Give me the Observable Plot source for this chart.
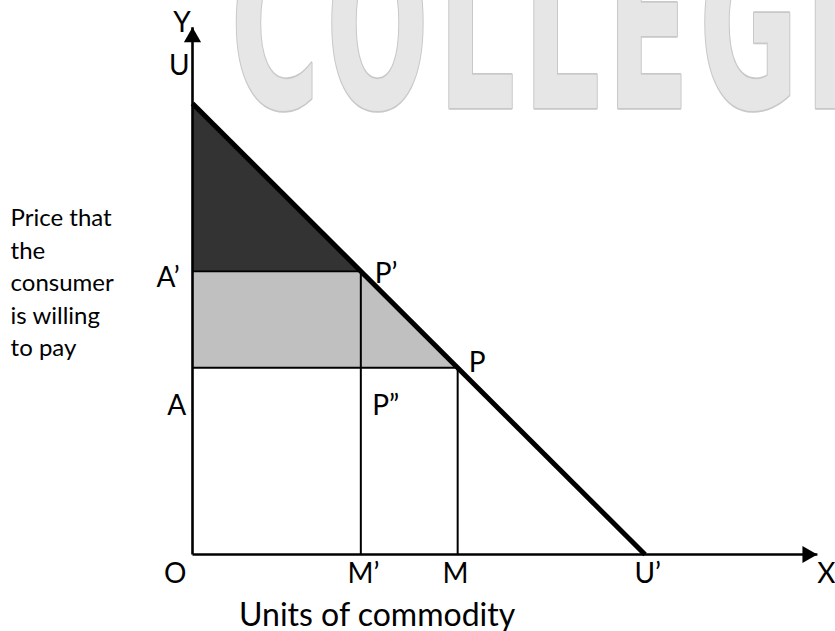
<!DOCTYPE html>
<html>
<head>
<meta charset="utf-8">
<script src="https://cdn.jsdelivr.net/npm/d3@7"></script>
<script src="https://cdn.jsdelivr.net/npm/@observablehq/plot@0.6"></script>
<style>
  body { margin: 0; background: #ffffff; }
  #chart { width: 835px; height: 631px; }
</style>
</head>
<body>
<div id="chart"></div>
<script>
// ---- data (in chart units) ----
const demandX = [0, 10];          // U at x=0, U' at x=10
const demandY = [10, 0];
const quantities = [3.72, 5.86];  // M', M
const prices = [6.28, 4.14];      // A', A (price on demand curve at M', M)
const axisEnds = [13.81, 11.69];  // x-axis tip, y-axis tip

const labelText = ["Y", "U", "A’", "P’", "P", "A", "P”", "O", "M’", "M", "U’", "X"];
const labelX    = [-0.23, -0.29, -0.54, 4.28, 6.29, -0.35, 4.27, -0.38, 3.78, 5.81, 10.06, 14.01];
const labelY    = [11.78, 10.82, 6.13, 6.21, 4.25, 3.30, 3.30, -0.43, -0.43, -0.43, -0.43, -0.43];

const yTitle = "Price that\nthe\nconsumer\nis willing\nto pay";
const xTitle = "Units of commodity";

// background watermark letters and their centres (chart units)
const watermarkLetters = ["C", "O", "L", "L", "E", "G", "E"];
const watermarkX       = [1.82, 4.09, 6.28, 8.16, 10.07, 12.29, 14.44];
const watermarkBaseline = 9.89;

// ---- derived tables ----
const [q1, q2] = quantities;
const [p1, p2] = prices;
const labels = labelText.map((t, i) => ({t, x: labelX[i], y: labelY[i]}));
const wm = watermarkLetters.map((t, i) => ({t, x: watermarkX[i], y: watermarkBaseline}));
const darkArea = [
  {x: demandX[0], y1: p1, y2: demandY[0]},
  {x: q1, y1: p1, y2: p1}
];
const grayArea = [
  {x: demandX[0], y1: p2, y2: p1},
  {x: q1, y1: p2, y2: p1},
  {x: q2, y1: p2, y2: p2}
];
const axes = [
  {x1: 0, y1: 0, x2: axisEnds[0], y2: 0},
  {x1: 0, y1: 0, x2: 0, y2: axisEnds[1]}
];
const guides = [
  {x1: 0, y1: p1, x2: q1, y2: p1},
  {x1: 0, y1: p2, x2: q2, y2: p2},
  {x1: q1, y1: 0, x2: q1, y2: p1},
  {x1: q2, y1: 0, x2: q2, y2: p2}
];
const demand = [{x1: demandX[0], y1: demandY[0], x2: demandX[1], y2: demandY[1]}];

const font = "Lato, 'Open Sans', sans-serif";
const wmFont = "'Liberation Sans Narrow', 'DejaVu Sans Condensed', 'Liberation Sans', sans-serif";

const plot = Plot.plot({
  width: 835,
  height: 631,
  marginLeft: 192,
  marginRight: 9.5,
  marginTop: 12.8,
  marginBottom: 77,
  x: {domain: [0, 14], axis: null},
  y: {domain: [0, 12], axis: null},
  style: {background: "white", fontFamily: font, overflow: "hidden"},
  marks: [
    Plot.text(wm, {
      x: "x", y: "y", text: "t",
      textAnchor: "middle", lineAnchor: "bottom",
      fontSize: 134, fontWeight: "bold", fontFamily: wmFont,
      fill: "#e6e6e6", stroke: "#c8c8c8", strokeWidth: 2
    }),
    Plot.areaY(grayArea, {x: "x", y1: "y1", y2: "y2", fill: "#c0c0c0"}),
    Plot.areaY(darkArea, {x: "x", y1: "y1", y2: "y2", fill: "#333333"}),
    Plot.link(guides, {x1: "x1", y1: "y1", x2: "x2", y2: "y2", stroke: "black", strokeWidth: 2}),
    Plot.link(axes, {x1: "x1", y1: "y1", x2: "x2", y2: "y2", stroke: "black", strokeWidth: 2.6}),
    Plot.link(demand, {x1: "x1", y1: "y1", x2: "x2", y2: "y2", stroke: "black", strokeWidth: 5, strokeLinecap: "butt"}),
    Plot.dot([{x: 0, y: axisEnds[1]}], {x: "x", y: "y", symbol: "triangle", r: 6.4, fill: "black", dy: 10}),
    Plot.dot([{x: axisEnds[0], y: 0}], {x: "x", y: "y", symbol: "triangle", r: 6.4, fill: "black", rotate: 90, dx: -10}),
    Plot.text(labels, {x: "x", y: "y", text: "t", fontSize: 28, fill: "black", fontFamily: font}),
    Plot.text([yTitle], {x: () => -4.02, y: () => 7.80, text: d => d, textAnchor: "start", lineAnchor: "top",
      lineHeight: 1.36, fontSize: 24, fill: "black", fontFamily: font}),
    Plot.text([xTitle], {x: () => 4.08, y: () => -1.36, text: d => d, fontSize: 32, fill: "black", fontFamily: font})
  ]
});
document.getElementById("chart").appendChild(plot);

// stretch the watermark letters vertically (tall condensed lettering in the reference)
d3.select(plot).selectAll("g[aria-label='text']").filter((d, i) => i === 0).selectAll("text")
  .each(function () {
    const t = this.getAttribute("transform") || "";
    this.setAttribute("transform", (t + " scale(1,1.75)").trim());
  });
</script>
</body>
</html>
